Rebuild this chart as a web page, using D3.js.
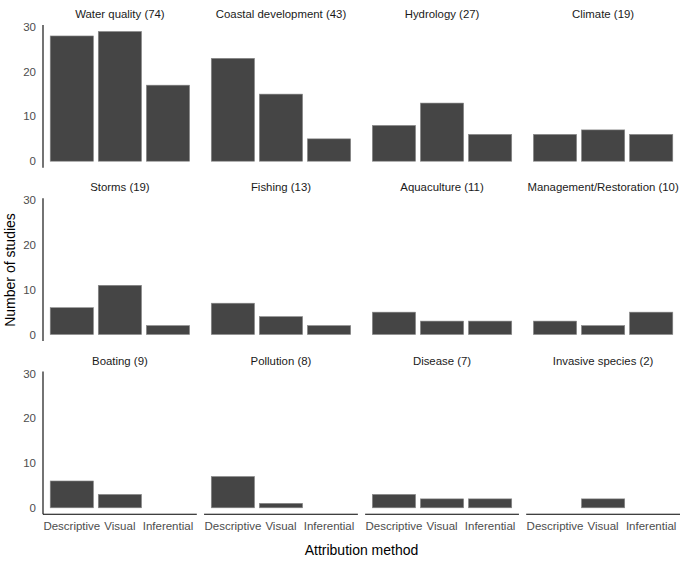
<!DOCTYPE html>
<html>
<head>
<meta charset="utf-8">
<script src="https://cdn.jsdelivr.net/npm/d3@7"></script>
<style>
  body { margin: 0; background: #fff; }
  text { font-family: "Liberation Sans", Arial, sans-serif; }
</style>
</head>
<body>
<div id="chart"></div>
<script>
// facet labels (stressor + total studies)
const facets = [
    "Water quality (74)", "Coastal development (43)", "Hydrology (27)", "Climate (19)",
    "Storms (19)", "Fishing (13)", "Aquaculture (11)", "Management/Restoration (10)",
    "Boating (9)", "Pollution (8)", "Disease (7)", "Invasive species (2)"
];
const methods = ["Descriptive", "Visual", "Inferential"];

// counts per facet, one array per attribution method
const descriptive = [28, 23, 8, 6, 6, 7, 5, 3, 6, 7, 3, 0];
const visual      = [29, 15, 13, 7, 11, 4, 3, 2, 3, 1, 2, 2];
const inferential = [17, 5, 6, 6, 2, 2, 3, 5, 0, 0, 2, 0];

const yTicks = [0, 10, 20, 30];

const W = 680, H = 563;
const nCols = 4, nRows = 3;

const svg = d3.select("#chart")
    .append("svg")
    .attr("width", W)
    .attr("height", H);

// panel grid
const col = d3.scaleBand()
    .domain(d3.range(nCols))
    .range([43, 680])
    .paddingInner(0.045);

const row = d3.scaleBand()
    .domain(d3.range(nRows))
    .range([25, 514.3])
    .paddingInner(0.1766);

const pw = col.bandwidth();
const ph = row.bandwidth();

// x within a panel: ggplot-like 0.9 bar width and 0.6 expansion
const x = d3.scaleBand()
    .domain(methods)
    .range([0, pw])
    .paddingInner(0.1)
    .paddingOuter(0.15);

// y shared across panels, 5% expansion
const series = [descriptive, visual, inferential];
const yMax = d3.max(series, s => d3.max(s));
const y = d3.scaleLinear()
    .domain([-yMax * 0.05, yMax * 1.05])
    .range([ph, 0]);

facets.forEach((name, i) => {
    const c = i % nCols, r = Math.floor(i / nCols);
    const g = svg.append("g")
        .attr("transform", "translate(" + col(c) + "," + row(r) + ")");

    const vals = methods.map((m, j) => ({ method: m, n: series[j][i] }));

    // strip label
    g.append("text")
        .attr("x", pw / 2)
        .attr("y", -7)
        .attr("text-anchor", "middle")
        .style("font-size", "11.4px")
        .style("fill", "#1a1a1a")
        .text(name);

    // bars
    g.selectAll(".bar")
        .data(vals.filter(d => d.n > 0))
        .enter()
        .append("rect")
        .attr("class", "bar")
        .attr("x", d => x(d.method))
        .attr("width", x.bandwidth())
        .attr("y", d => y(d.n))
        .attr("height", d => y(0) - y(d.n))
        .attr("fill", "#454545")
        .attr("stroke", "#8c8c8c")
        .attr("stroke-width", 0.6);

    // y axis on first column only
    if (c === 0) {
        g.append("line")
            .attr("x1", 0).attr("x2", 0)
            .attr("y1", 0).attr("y2", ph)
            .attr("stroke", "#000")
            .attr("stroke-width", 1.1);
        g.selectAll(".ytick")
            .data(yTicks)
            .enter()
            .append("text")
            .attr("class", "ytick")
            .attr("x", -7)
            .attr("y", d => y(d) + 4)
            .attr("text-anchor", "end")
            .style("font-size", "11.5px")
            .style("fill", "#4d4d4d")
            .text(d => d);
    }

    // x axis on bottom row only
    if (r === nRows - 1) {
        g.append("line")
            .attr("x1", 0).attr("x2", pw)
            .attr("y1", ph).attr("y2", ph)
            .attr("stroke", "#000")
            .attr("stroke-width", 1.1);
        g.selectAll(".xtick")
            .data(methods)
            .enter()
            .append("text")
            .attr("class", "xtick")
            .attr("x", d => x(d) + x.bandwidth() / 2)
            .attr("y", ph + 16)
            .attr("text-anchor", "middle")
            .style("font-size", "11.5px")
            .style("fill", "#4d4d4d")
            .text(d => d);
    }
});

// axis titles
svg.append("text")
    .attr("x", (43 + 680) / 2)
    .attr("y", 555)
    .attr("text-anchor", "middle")
    .style("font-size", "14px")
    .style("fill", "#000")
    .text("Attribution method");

svg.append("text")
    .attr("transform", "translate(15," + 270 + ") rotate(-90)")
    .attr("text-anchor", "middle")
    .style("font-size", "14px")
    .style("fill", "#000")
    .text("Number of studies");
</script>
</body>
</html>
